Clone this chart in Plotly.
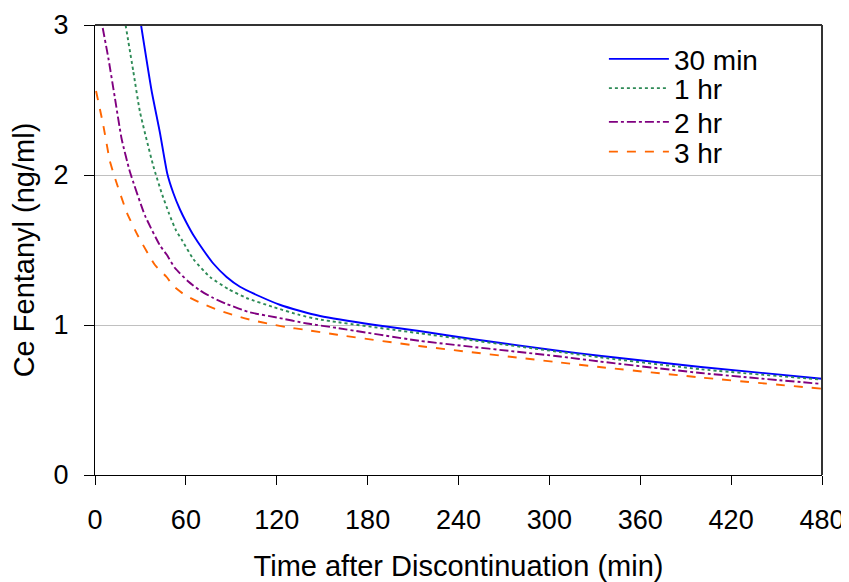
import plotly.graph_objects as go

# Data (time in min, Ce in ng/ml)
t_30min = [30.4, 37.4, 42.9, 47.7, 51.7, 56.1, 60.5, 64.9, 71.5, 78.1, 86.9, 95.7, 109, 122, 135, 148.6, 185, 214, 250, 307, 333, 400, 480]
c_30min = [3.0, 2.56, 2.28, 2.01, 1.88, 1.77, 1.68, 1.60, 1.50, 1.41, 1.32, 1.255, 1.19, 1.135, 1.095, 1.06, 1.0, 0.96, 0.905, 0.827, 0.795, 0.72, 0.642]

t_1hr = [20.2, 25.3, 29.7, 38.5, 44, 49, 53.5, 57.2, 64.9, 75.9, 88, 100, 117.7, 135, 147.5, 214, 307, 333, 400, 480]
c_1hr = [3.0, 2.69, 2.42, 2.06, 1.88, 1.74, 1.63, 1.57, 1.44, 1.32, 1.24, 1.18, 1.12, 1.067, 1.038, 0.945, 0.82, 0.785, 0.705, 0.635]

t_2hr = [5.1, 8.8, 13.2, 17.6, 23.1, 33, 42.9, 47.3, 52.8, 61.6, 69.3, 78.1, 86.9, 102, 120, 140, 160, 214, 307, 333, 400, 480]
c_2hr = [2.98, 2.78, 2.51, 2.24, 2.02, 1.73, 1.53, 1.47, 1.38, 1.29, 1.23, 1.18, 1.14, 1.085, 1.05, 1.01, 0.98, 0.895, 0.79, 0.757, 0.68, 0.607]

t_3hr = [0.7, 5.5, 9.9, 13.5, 21, 28.6, 39.6, 47.3, 51.7, 59.4, 70.4, 82.5, 93.5, 104.5, 115.5, 126.6, 137.5, 160, 214, 307, 333, 400, 480]
c_3hr = [2.56, 2.33, 2.09, 1.97, 1.75, 1.59, 1.40, 1.32, 1.26, 1.20, 1.144, 1.095, 1.06, 1.03, 1.007, 0.985, 0.97, 0.935, 0.86, 0.75, 0.72, 0.65, 0.575]

x_ticks = [0, 60, 120, 180, 240, 300, 360, 420, 480]
y_ticks = [0, 1, 2, 3]

series = [
    ("30 min", t_30min, c_30min, "#0000FF", "solid", "legend"),
    ("1 hr", t_1hr, c_1hr, "#2E8B57", "dot", "legend2"),
    ("2 hr", t_2hr, c_2hr, "#800080", "dashdot", "legend3"),
    ("3 hr", t_3hr, c_3hr, "#FF6600", "dash", "legend4"),
]

FONT = "Liberation Sans, Arial, sans-serif"

fig = go.Figure()
for name, t, c, col, dash, lg in series:
    fig.add_trace(go.Scatter(
        x=t, y=c, name=name, mode="lines", legend=lg,
        line=dict(color=col, width=1.9, dash=dash, shape="spline", smoothing=0.5),
    ))

legend_y = [0.924, 0.859, 0.784, 0.718]


def lg_style(y):
    return dict(x=0.70, y=y, xanchor="left", yanchor="middle",
                font=dict(size=28), bgcolor="rgba(0,0,0,0)",
                itemwidth=60, borderwidth=0)


# the page body adds an 8px offset, so the figure is sized 8px smaller
fig.update_layout(
    width=841, height=574,
    margin=dict(l=87, r=27, t=17, b=107),
    paper_bgcolor="white", plot_bgcolor="white",
    font=dict(family=FONT, size=28, color="black"),
    showlegend=True,
    legend=lg_style(legend_y[0]),
    legend2=lg_style(legend_y[1]),
    legend3=lg_style(legend_y[2]),
    legend4=lg_style(legend_y[3]),
    xaxis=dict(range=[0, 480], tickvals=x_ticks, ticktext=[str(v) for v in x_ticks],
               ticks="outside", ticklen=9, tickcolor="black", tickwidth=1,
               ticklabelstandoff=12, automargin=False,
               showline=True, linecolor="black", linewidth=1,
               showgrid=False, zeroline=False,
               tickfont=dict(size=27),
               title=dict(text="Time after Discontinuation (min)", font=dict(size=29), standoff=23)),
    yaxis=dict(range=[0, 3], tickvals=y_ticks, ticktext=[str(v) for v in y_ticks],
               ticks="outside", ticklen=10, tickcolor="black", tickwidth=1,
               ticklabelstandoff=10, automargin=False,
               showline=True, linecolor="black", linewidth=1,
               showgrid=True, gridcolor="#C0C0C0", gridwidth=1, zeroline=False,
               tickfont=dict(size=27),
               title=dict(text="Ce Fentanyl (ng/ml)", font=dict(size=29), standoff=11)),
)

# top and right frame lines
fig.add_shape(type="line", xref="paper", yref="paper", x0=0, x1=1, y0=1, y1=1,
              line=dict(color="#333333", width=2))
fig.add_shape(type="line", xref="paper", yref="paper", x0=1, x1=1, y0=0, y1=1,
              line=dict(color="#333333", width=2))

fig.write_html("out.html")
